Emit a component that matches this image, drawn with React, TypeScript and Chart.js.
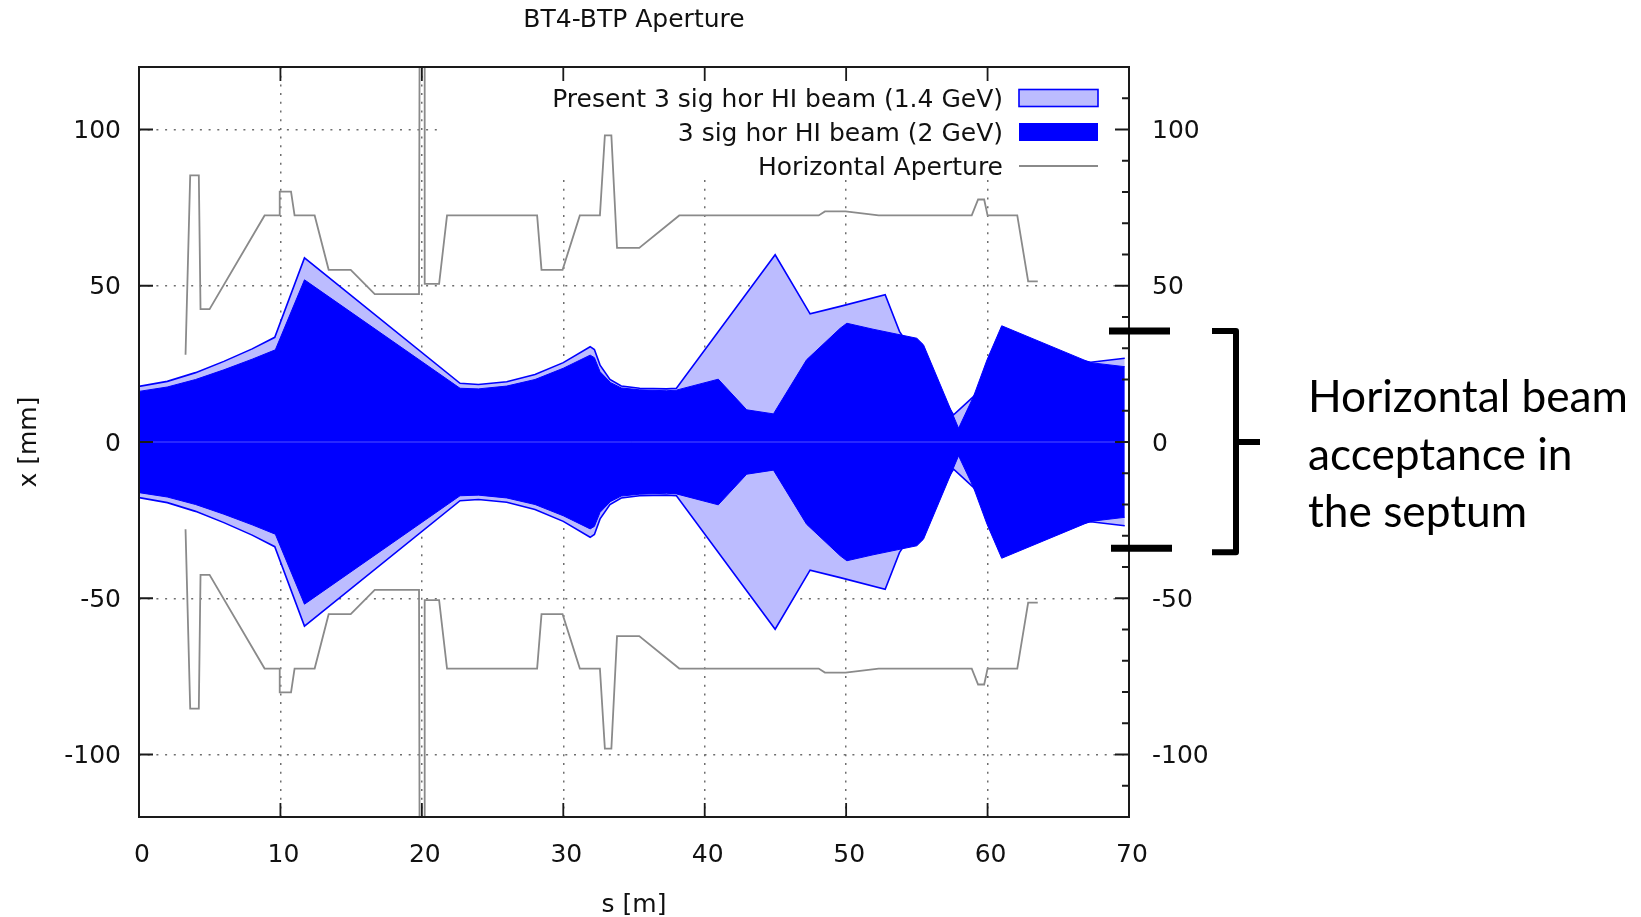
import React, { useEffect, useRef } from "react";
import { Chart, registerables } from "chart.js";

Chart.register(...registerables);

// ---------- text ----------
const TITLE = "BT4-BTP Aperture";
const X_TITLE = "s [m]";
const Y_TITLE = "x [mm]";
const LEGEND_LABELS = [
  "Present 3 sig hor HI beam (1.4 GeV)",
  "3 sig hor HI beam (2 GeV)",
  "Horizontal Aperture",
];
const ANNOTATION_LINES = ["Horizontal beam", "acceptance in", "the septum"];

// ---------- axes ----------
const X_MIN = 0;
const X_MAX = 70;
const Y_MIN = -120;
const Y_MAX = 120;
const X_TICKS = [0, 10, 20, 30, 40, 50, 60, 70];
const Y_TICKS = [-100, -50, 0, 50, 100];
const Y2_MINOR_TICKS = [-110, -90, -80, -70, -60, -40, -30, -20, -10, 10, 20, 30, 40, 60, 70, 80, 90, 110];

// ---------- data: horizontal aperture (upper half, mirrored below) ----------
const APERTURE_S = [
  3.29, 3.62, 4.23, 4.35, 4.99, 8.88, 9.95, 9.95, 10.75, 11.0, 12.42, 13.41, 14.97, 16.67, 19.8, 19.9,
  20.2, 20.2, 21.22, 21.78, 28.15, 28.46, 29.95, 31.17, 32.59, 32.94, 33.4, 33.8, 35.37, 38.2, 48.06,
  48.5, 49.96, 52.3, 58.88, 59.33, 59.76, 60.0, 62.1, 62.87, 63.55,
];
const APERTURE_X = [
  27.9, 85.3, 85.3, 42.5, 42.5, 72.5, 72.5, 80.1, 80.1, 72.5, 72.5, 55.1, 55.1, 47.3, 47.3, 250,
  250, 50.6, 50.6, 72.5, 72.5, 55.1, 55.1, 72.5, 72.5, 98.1, 98.1, 62.1, 62.1, 72.5, 72.5,
  73.8, 73.8, 72.5, 72.5, 77.6, 77.6, 72.5, 72.5, 51.4, 51.4,
];

// ---------- data: 3 sigma beam envelope, 1.4 GeV (present) ----------
const BEAM14_S = [
  0, 2, 4, 6, 8, 9.6, 11.7, 22.7, 24, 26, 28, 30, 31.9, 32.2, 32.6, 33.3, 34.1, 35.4, 37.3, 38.0,
  44.98, 47.45, 49.58, 52.76, 53.77, 57.6, 59.0, 61.0, 64.0, 67.3, 69.7,
];
const BEAM14_X = [
  17.8, 19.4, 22.2, 25.8, 29.8, 33.5, 58.9, 18.8, 18.4, 19.3, 21.6, 25.4, 30.5, 29.6, 24.6, 20.0, 17.9,
  17.2, 17.0, 17.2, 59.9, 41.0, 43.4, 47.1, 35.4, 8.7, 14.5, 27.0, 28.5, 25.5, 26.8,
];

// ---------- data: 3 sigma beam envelope, 2 GeV ----------
const BEAM20_S = [
  0, 2, 4, 6, 8, 9.64, 11.7, 22.7, 24, 26, 28, 30, 31.9, 32.2, 32.6, 33.35, 34.1, 35.4, 37.3, 38.0,
  40.96, 42.97, 44.86, 47.2, 49.58, 50.05, 51.9, 55.0, 55.47, 57.95, 59.0, 59.96, 61.0, 67.27, 69.7,
];
const BEAM20_X = [
  16.2, 17.6, 20.0, 23.1, 26.5, 29.5, 51.9, 17.2, 17.0, 17.9, 20.0, 23.6, 27.8, 27.0, 22.5, 19.0, 17.3,
  16.7, 16.4, 16.6, 20.1, 10.3, 9.0, 26.3, 36.4, 38.0, 36.1, 33.2, 31.1, 4.4, 14.5, 26.3, 37.2, 25.4, 24.1,
];

// septum acceptance markers (mm)
const SEPTUM_ACCEPTANCE = [35.5, -34.0];

// ---------- styles ----------
const FONT = '"DejaVu Sans", "Noto Sans", sans-serif';
const FONT_SIZE = 25;
const TEXT_COLOR = "#111111";
const BLUE = "#0000ff";
const LIGHT_BLUE = "rgb(188,188,255)";
const APERTURE_GRAY = "#8a8a8a";
const GRID_COLOR = "#6e6e6e";

const pts = (s: number[], v: number[], sign = 1) => s.map((x, i) => ({ x, y: sign * v[i] }));

const decorPlugin = {
  id: "decor",
  beforeDatasetsDraw(chart: any) {
    const { ctx, chartArea: a } = chart;
    // opaque key background (hides grid behind legend)
    ctx.save();
    ctx.fillStyle = "#ffffff";
    ctx.fillRect(a.left + 301, a.top + 1, a.right - a.left - 302, 112);
    ctx.restore();
  },
  afterDraw(chart: any) {
    const { ctx, chartArea: a } = chart;
    const xs = chart.scales.x;
    const ys = chart.scales.y;
    ctx.save();

    // frame
    ctx.strokeStyle = "#1a1a1a";
    ctx.lineWidth = 2;
    ctx.strokeRect(a.left, a.top, a.right - a.left, a.bottom - a.top);

    // inward ticks
    ctx.lineWidth = 1.8;
    ctx.beginPath();
    X_TICKS.forEach((v) => {
      if (v === X_MIN || v === X_MAX) return;
      const px = xs.getPixelForValue(v);
      ctx.moveTo(px, a.bottom);
      ctx.lineTo(px, a.bottom - 14);
      ctx.moveTo(px, a.top);
      ctx.lineTo(px, a.top + 14);
    });
    Y_TICKS.forEach((v) => {
      const py = ys.getPixelForValue(v);
      ctx.moveTo(a.left, py);
      ctx.lineTo(a.left + 14, py);
      ctx.moveTo(a.right, py);
      ctx.lineTo(a.right - 14, py);
    });
    Y2_MINOR_TICKS.forEach((v) => {
      const py = ys.getPixelForValue(v);
      ctx.moveTo(a.right, py);
      ctx.lineTo(a.right - 7, py);
    });
    ctx.stroke();

    // titles
    ctx.fillStyle = TEXT_COLOR;
    ctx.font = `${FONT_SIZE}px ${FONT}`;
    ctx.textAlign = "center";
    ctx.textBaseline = "alphabetic";
    const cx = (a.left + a.right) / 2;
    ctx.fillText(TITLE, cx, 27);
    ctx.fillText(X_TITLE, cx, a.bottom + 95);
    ctx.save();
    ctx.translate(36, (a.top + a.bottom) / 2);
    ctx.rotate(-Math.PI / 2);
    ctx.fillText(Y_TITLE, 0, 0);
    ctx.restore();

    // legend
    ctx.textAlign = "right";
    LEGEND_LABELS.forEach((label, i) => {
      const rowY = a.top + 31 + 34 * i;
      ctx.fillStyle = TEXT_COLOR;
      ctx.fillText(label, a.right - 126, rowY + 9);
      const x0 = a.right - 110;
      const w = 79;
      if (i === 0) {
        ctx.fillStyle = LIGHT_BLUE;
        ctx.fillRect(x0, rowY - 8.5, w, 17);
        ctx.strokeStyle = BLUE;
        ctx.lineWidth = 1.6;
        ctx.strokeRect(x0, rowY - 8.5, w, 17);
      } else if (i === 1) {
        ctx.fillStyle = BLUE;
        ctx.fillRect(x0, rowY - 9, w, 18);
      } else {
        ctx.strokeStyle = APERTURE_GRAY;
        ctx.lineWidth = 1.8;
        ctx.beginPath();
        ctx.moveTo(x0, rowY);
        ctx.lineTo(x0 + w, rowY);
        ctx.stroke();
      }
    });

    // septum acceptance annotation
    const yTop = ys.getPixelForValue(SEPTUM_ACCEPTANCE[0]);
    const yBot = ys.getPixelForValue(SEPTUM_ACCEPTANCE[1]);
    const y0 = ys.getPixelForValue(0);
    ctx.strokeStyle = "#000000";
    ctx.lineWidth = 7;
    ctx.beginPath();
    ctx.moveTo(a.right - 20, yTop);
    ctx.lineTo(a.right + 41, yTop);
    ctx.moveTo(a.right - 18, yBot);
    ctx.lineTo(a.right + 43, yBot);
    ctx.stroke();

    ctx.lineWidth = 6;
    ctx.lineJoin = "round";
    ctx.beginPath();
    ctx.moveTo(a.right + 83, yTop);
    ctx.lineTo(a.right + 107, yTop);
    ctx.lineTo(a.right + 107, yBot + 4);
    ctx.lineTo(a.right + 83, yBot + 4);
    ctx.moveTo(a.right + 107, y0);
    ctx.lineTo(a.right + 131, y0);
    ctx.stroke();

    ctx.font = `100px Lato, "Open Sans", sans-serif`;
    const w100 = ctx.measureText(ANNOTATION_LINES[0]).width;
    const size = (100 * 320) / w100;
    ctx.font = `${size}px Lato, "Open Sans", sans-serif`;
    ctx.fillStyle = "#000000";
    ctx.textAlign = "left";
    ANNOTATION_LINES.forEach((line, i) => {
      ctx.fillText(line, a.right + 179, y0 - 30 + 57.5 * i);
    });

    ctx.restore();
  },
};

export default function App() {
  const ref = useRef<HTMLCanvasElement>(null);

  useEffect(() => {
    const canvas = ref.current!;
    const lineBase = { pointRadius: 0, pointHoverRadius: 0, tension: 0 };
    const chart = new Chart(canvas, {
      type: "line",
      data: {
        datasets: [
          {
            ...lineBase,
            label: "Horizontal Aperture",
            data: pts(APERTURE_S, APERTURE_X),
            borderColor: APERTURE_GRAY,
            borderWidth: 1.8,
            fill: false,
            order: 0,
          },
          {
            ...lineBase,
            label: "Horizontal Aperture (lower)",
            data: pts(APERTURE_S, APERTURE_X, -1),
            borderColor: APERTURE_GRAY,
            borderWidth: 1.8,
            fill: false,
            order: 0,
          },
          {
            ...lineBase,
            label: "axis",
            data: [
              { x: BEAM20_S[0], y: 0 },
              { x: BEAM20_S[BEAM20_S.length - 1], y: 0 },
            ],
            borderColor: "rgba(80,80,255,1)",
            borderWidth: 1,
            fill: false,
            order: 1,
          },
          {
            ...lineBase,
            label: "3 sig hor HI beam (2 GeV)",
            data: pts(BEAM20_S, BEAM20_X),
            borderColor: BLUE,
            backgroundColor: BLUE,
            borderWidth: 1,
            fill: false,
            order: 2,
          },
          {
            ...lineBase,
            label: "3 sig hor HI beam (2 GeV) lower",
            data: pts(BEAM20_S, BEAM20_X, -1),
            borderColor: BLUE,
            backgroundColor: BLUE,
            borderWidth: 1,
            fill: "-1",
            order: 2,
          },
          {
            ...lineBase,
            label: "Present 3 sig hor HI beam (1.4 GeV)",
            data: pts(BEAM14_S, BEAM14_X),
            borderColor: BLUE,
            backgroundColor: LIGHT_BLUE,
            borderWidth: 1.6,
            fill: false,
            order: 3,
          },
          {
            ...lineBase,
            label: "Present 3 sig hor HI beam (1.4 GeV) lower",
            data: pts(BEAM14_S, BEAM14_X, -1),
            borderColor: BLUE,
            backgroundColor: LIGHT_BLUE,
            borderWidth: 1.6,
            fill: "-1",
            order: 3,
          },
        ],
      },
      options: {
        responsive: false,
        animation: false,
        devicePixelRatio: 1,
        events: [],
        layout: { padding: { top: 67, left: 0, right: 412, bottom: 40 } },
        plugins: {
          legend: { display: false },
          title: { display: false },
          tooltip: { enabled: false },
        },
        scales: {
          x: {
            type: "linear",
            position: "bottom",
            min: X_MIN,
            max: X_MAX,
            afterBuildTicks: (s: any) => {
              s.ticks = X_TICKS.map((value) => ({ value }));
            },
            afterFit: (s: any) => {
              s.height = 60;
            },
            ticks: {
              font: { family: FONT, size: FONT_SIZE },
              color: TEXT_COLOR,
              padding: 23,
              labelOffset: 3,
              maxRotation: 0,
              autoSkip: false,
            },
            grid: {
              drawTicks: false,
              lineWidth: 1.5,
              color: (c: any) =>
                c.tick && (c.tick.value === X_MIN || c.tick.value === X_MAX) ? "rgba(0,0,0,0)" : GRID_COLOR,
            },
            border: { display: false, dash: [2, 6.7] },
          },
          y: {
            type: "linear",
            position: "left",
            min: Y_MIN,
            max: Y_MAX,
            afterBuildTicks: (s: any) => {
              s.ticks = Y_TICKS.map((value) => ({ value }));
            },
            afterFit: (s: any) => {
              s.width = 139;
            },
            ticks: {
              font: { family: FONT, size: FONT_SIZE },
              color: TEXT_COLOR,
              padding: 18,
              labelOffset: 2,
              autoSkip: false,
            },
            grid: { drawTicks: false, lineWidth: 1.5, color: GRID_COLOR },
            border: { display: false, dash: [2, 6.7] },
          },
          y2: {
            type: "linear",
            position: "right",
            min: Y_MIN,
            max: Y_MAX,
            afterBuildTicks: (s: any) => {
              s.ticks = Y_TICKS.map((value) => ({ value }));
            },
            afterFit: (s: any) => {
              s.width = 100;
            },
            ticks: {
              font: { family: FONT, size: FONT_SIZE },
              color: TEXT_COLOR,
              padding: 23,
              labelOffset: 2,
              autoSkip: false,
            },
            grid: { display: false, drawTicks: false },
            border: { display: false },
          },
        },
      },
      plugins: [decorPlugin],
    } as any);
    return () => chart.destroy();
  }, []);

  return (
    <div style={{ position: "fixed", left: 0, top: 0, width: 1641, height: 917, background: "#ffffff" }}>
      <canvas ref={ref} width={1641} height={917} style={{ display: "block", width: 1641, height: 917 }} />
    </div>
  );
}
